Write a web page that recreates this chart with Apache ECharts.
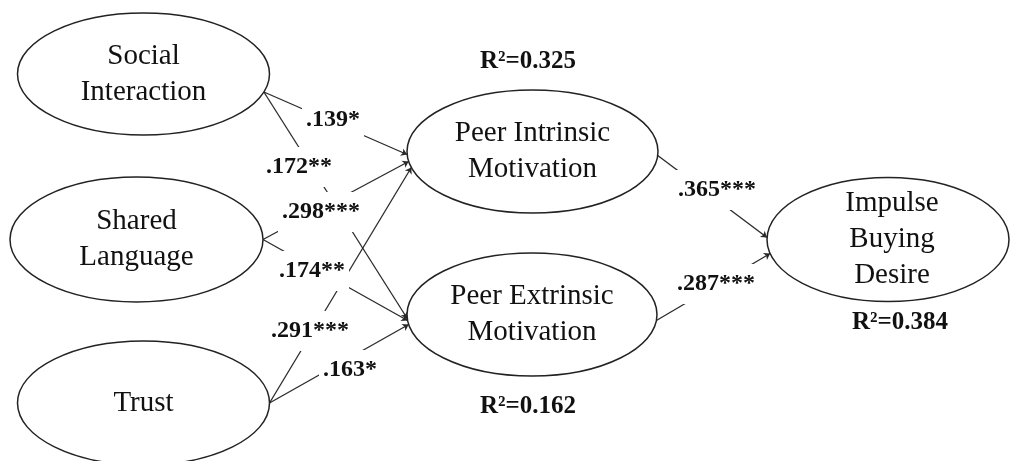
<!DOCTYPE html>
<html>
<head>
<meta charset="utf-8">
<script src="https://cdn.jsdelivr.net/npm/echarts@6/dist/echarts.min.js"></script>
<style>html,body{margin:0;padding:0;background:#fff}#c{width:1010px;height:461px}</style>
</head>
<body>
<div id="c"></div>
<script>
// ---- data ----
const nodeNames = ['Social\nInteraction', 'Shared\nLanguage', 'Trust', 'Peer Intrinsic\nMotivation', 'Peer Extrinsic\nMotivation', 'Impulse\nBuying\nDesire'];
const edgeFrom = [0, 0, 1, 1, 2, 2, 3, 4];
const edgeTo   = [3, 4, 3, 4, 3, 4, 5, 5];
const coefLabels = ['.139*', '.172**', '.298***', '.174**', '.291***', '.163*', '.365***', '.287***'];
const rSquaredNodes = [3, 4, 5];
const rSquaredValues = ['0.325', '0.162', '0.384'];

// ---- layout (diagram coordinates) ----
const nodeX  = [143.5, 136.5, 143.5, 532.5, 532, 888];
const nodeY  = [74, 239.5, 403, 151.5, 314.5, 239.5];
const nodeRx = [126, 126.5, 126, 125.5, 125, 121];
const nodeRy = [61, 62.5, 62, 61.5, 61.5, 62];
const nodeTextDx = [0, 0, 0, 0, 0, 4];
const edgeSrcDy = [18, 18, 0, 0, 0, 0, 4, 6];
const edgeDstDy = [3, 4, 10, 6, 16, 10, -2, 14];
const coefPos = [[333, 120], [299, 167], [321, 212], [312, 271], [310, 331], [350, 370], [717, 190], [716, 284]];
const rSquaredPos = [[528, 62], [528, 407], [900, 323]];

function edgePoint(i, dy, side) {
  const r = Math.sqrt(Math.max(0, 1 - (dy / nodeRy[i]) * (dy / nodeRy[i])));
  return [nodeX[i] + side * nodeRx[i] * r, nodeY[i] + dy];
}

const lineData = edgeFrom.map((s, k) => ({
  coords: [edgePoint(s, edgeSrcDy[k], 1), edgePoint(edgeTo[k], edgeDstDy[k], -1)]
}));

const nodeData = nodeNames.map((n, i) => [nodeX[i], nodeY[i], nodeRx[i], nodeRy[i], i]);

const chart = echarts.init(document.getElementById('c'), null, {renderer: 'canvas'});
chart.setOption({
  animation: false,
  backgroundColor: '#fff',
  grid: {left: 0, right: 0, top: 0, bottom: 0},
  xAxis: {type: 'value', min: 0, max: 1010, show: false},
  yAxis: {type: 'value', min: 0, max: 461, inverse: true, show: false},
  series: [
    {
      type: 'lines',
      coordinateSystem: 'cartesian2d',
      z: 2,
      silent: true,
      symbol: ['none', 'arrow'],
      symbolSize: 6,
      lineStyle: {color: '#2a2a2a', width: 1.3, opacity: 1},
      data: lineData
    },
    {
      type: 'custom',
      z: 3,
      silent: true,
      data: nodeData,
      renderItem: function (params, api) {
        const c = api.coord([api.value(0), api.value(1)]);
        const s = api.size([api.value(2), api.value(3)]);
        const i = api.value(4);
        return {
          type: 'group',
          children: [
            {type: 'ellipse', shape: {cx: c[0], cy: c[1], rx: s[0], ry: s[1]},
             style: {fill: '#fff', stroke: '#222', lineWidth: 1.5}},
            {type: 'text', style: {text: nodeNames[i], x: c[0] + nodeTextDx[i], y: c[1],
              align: 'center', verticalAlign: 'middle', font: '29px "Liberation Serif"', lineHeight: 36, fill: '#111'}}
          ]
        };
      }
    },
    {
      type: 'scatter',
      z: 5,
      silent: true,
      symbolSize: 0,
      itemStyle: {opacity: 1},
      data: coefPos,
      label: {
        show: true, position: 'inside', opacity: 1,
        formatter: p => coefLabels[p.dataIndex],
        fontFamily: 'Liberation Serif', fontWeight: 'bold', fontSize: 24, color: '#111',
        backgroundColor: '#fff', padding: [8, 4]
      }
    },
    {
      type: 'scatter',
      z: 5,
      silent: true,
      symbolSize: 0,
      itemStyle: {opacity: 1},
      data: rSquaredPos,
      label: {
        show: true, position: 'inside', opacity: 1,
        formatter: p => 'R²=' + rSquaredValues[p.dataIndex],
        fontFamily: 'Liberation Serif', fontWeight: 'bold', fontSize: 25, color: '#111'
      }
    }
  ]
});
</script>
</body>
</html>
